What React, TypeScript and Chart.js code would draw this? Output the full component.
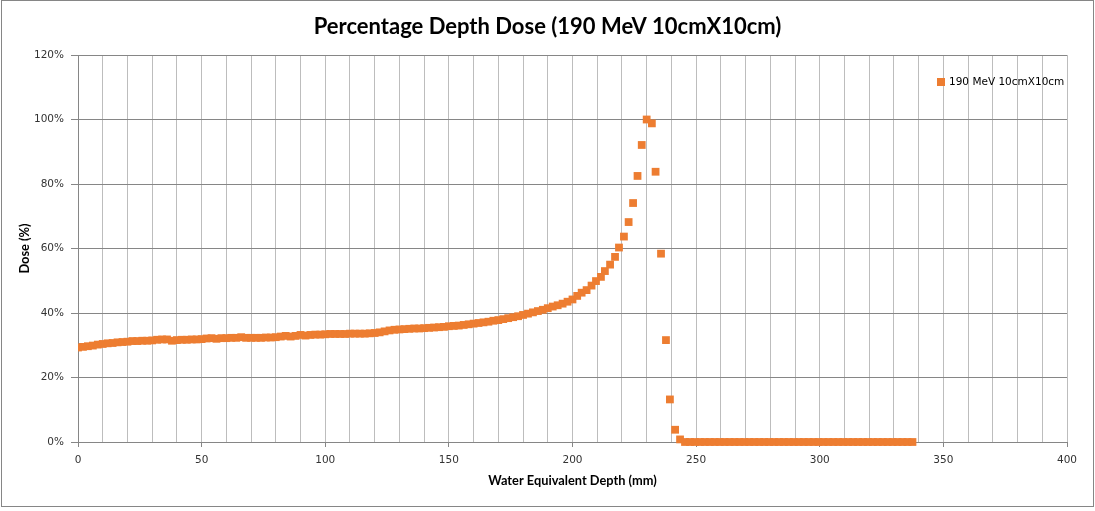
import React, { useEffect, useRef } from "react";
import { Chart, registerables } from "chart.js";

Chart.register(...registerables);

const chartTitle = "Percentage Depth Dose (190 MeV 10cmX10cm)";
const seriesName = "190 MeV 10cmX10cm";
const xAxisTitle = "Water Equivalent Depth (mm)";
const yAxisTitle = "Dose (%)";

const xTickLabels = [0, 50, 100, 150, 200, 250, 300, 350, 400];
const yTickLabels = [0, 20, 40, 60, 80, 100, 120];

// Water equivalent depth (mm)
const depthMm = [
  0, 2, 4, 6, 8, 10, 12, 14, 16, 18,
  20, 22, 24, 26, 28, 30, 32, 34, 36, 38,
  40, 42, 44, 46, 48, 50, 52, 54, 56, 58,
  60, 62, 64, 66, 68, 70, 72, 74, 76, 78,
  80, 82, 84, 86, 88, 90, 92, 94, 96, 98,
  100, 102, 104, 106, 108, 110, 112, 114, 116, 118,
  120, 122, 124, 126, 128, 130, 132, 134, 136, 138,
  140, 142, 144, 146, 148, 150, 152, 154, 156, 158,
  160, 162, 164, 166, 168, 170, 172, 174, 176, 178,
  180, 182, 184, 186, 188, 190, 192, 194, 196, 198,
  200, 201.9, 203.7, 205.7, 207.7, 209.5, 211.5, 213.1, 215.2, 217.2,
  218.8, 220.8, 222.7, 224.5, 226.3, 228.0, 230.0, 232.1, 233.6, 235.8,
  237.8, 239.4, 241.5, 243.5,
  245.5, 247.5, 249.5, 251.5, 253.5, 255.5, 257.5, 259.5, 261.5, 263.5,
  265.5, 267.5, 269.5, 271.5, 273.5, 275.5, 277.5, 279.5, 281.5, 283.5,
  285.5, 287.5, 289.5, 291.5, 293.5, 295.5, 297.5, 299.5, 301.5, 303.5,
  305.5, 307.5, 309.5, 311.5, 313.5, 315.5, 317.5, 319.5, 321.5, 323.5,
  325.5, 327.5, 329.5, 331.5, 333.5, 335.5, 337.5,
];

// Dose (%)
const dosePct = [
  29.3, 29.5, 29.7, 29.9, 30.2, 30.4, 30.6, 30.7, 30.9, 31.0,
  31.1, 31.3, 31.3, 31.4, 31.4, 31.5, 31.7, 31.8, 31.8, 31.4,
  31.6, 31.7, 31.7, 31.8, 31.8, 31.9, 32.1, 32.2, 32.0, 32.2,
  32.2, 32.3, 32.3, 32.5, 32.3, 32.3, 32.3, 32.3, 32.4, 32.4,
  32.5, 32.7, 32.9, 32.7, 32.9, 33.2, 33.0, 33.2, 33.3, 33.3,
  33.4, 33.5, 33.5, 33.5, 33.5, 33.6, 33.6, 33.6, 33.6, 33.7,
  33.8, 34.0, 34.3, 34.6, 34.8, 34.9, 35.0, 35.1, 35.2, 35.2,
  35.3, 35.4, 35.5, 35.6, 35.7, 35.9, 36.0, 36.1, 36.3, 36.5,
  36.7, 36.9, 37.1, 37.3, 37.6, 37.8, 38.1, 38.4, 38.7, 39.0,
  39.4, 39.8, 40.2, 40.6, 41.0, 41.5, 42.0, 42.4, 42.9, 43.5,
  44.2, 45.3, 46.3, 47.1, 48.5, 49.9, 51.2, 53.0, 55.0, 57.4,
  60.3, 63.7, 68.2, 74.1, 82.5, 92.1, 100.0, 98.8, 83.8, 58.4,
  31.6, 13.2, 3.8, 0.8,
  0, 0, 0, 0, 0, 0, 0, 0, 0, 0,
  0, 0, 0, 0, 0, 0, 0, 0, 0, 0,
  0, 0, 0, 0, 0, 0, 0, 0, 0, 0,
  0, 0, 0, 0, 0, 0, 0, 0, 0, 0,
  0, 0, 0, 0, 0, 0, 0,
];

const ORANGE = "#ED7D31";
const AXIS_GREY = "#868686";
const MINOR_GREY = "#bdbdbd";
const TICK_FONT = { family: "DejaVu Sans", size: 10.5 };
const AXIS_TITLE_FONT = { family: "Lato", size: 12.8, weight: "bold" as const };

const cornerLegend = {
  id: "cornerLegend",
  afterDraw(chart: any) {
    const { ctx, chartArea } = chart;
    const x = chartArea.right - 130;
    const y = chartArea.top + 27;
    ctx.save();
    ctx.fillStyle = ORANGE;
    ctx.fillRect(x, y - 4, 8, 8);
    ctx.fillStyle = "#000";
    ctx.font = '10.5px "DejaVu Sans"';
    ctx.textBaseline = "middle";
    ctx.textAlign = "left";
    ctx.fillText(seriesName, x + 12, y);
    ctx.restore();
  },
};

export default function App() {
  const canvasRef = useRef<HTMLCanvasElement | null>(null);

  useEffect(() => {
    if (!canvasRef.current) return;
    const points = depthMm.map((d, i) => ({ x: d, y: dosePct[i] }));
    const chart = new Chart(canvasRef.current, {
      type: "scatter",
      data: {
        datasets: [
          {
            label: seriesName,
            data: points,
            pointStyle: "rect",
            pointRadius: 5.5,
            pointHoverRadius: 5.5,
            backgroundColor: ORANGE,
            borderColor: ORANGE,
            borderWidth: 0,
            showLine: false,
            clip: { left: 0, top: 10, right: 10, bottom: 10 },
          } as any,
        ],
      },
      options: {
        responsive: false,
        animation: false,
        layout: { padding: 0 },
        plugins: {
          legend: { display: false },
          tooltip: { enabled: false },
          title: {
            display: true,
            text: chartTitle,
            color: "#000",
            font: { family: "Lato", size: 22, weight: "bold" },
            padding: { top: 13.8, bottom: 14.8 },
          },
        },
        scales: {
          x: {
            type: "linear",
            min: 0,
            max: 400,
            afterFit: (s: any) => {
              s.height = 69;
            },
            ticks: {
              stepSize: 10,
              maxTicksLimit: 100,
              autoSkip: false,
              maxRotation: 0,
              padding: 7,
              color: "#333",
              font: TICK_FONT,
              callback: (v: any) => (xTickLabels.includes(Number(v)) ? String(v) : ""),
            },
            grid: {
              color: MINOR_GREY,
              lineWidth: 1,
              tickLength: 5,
              tickColor: (ctx: any) =>
                ctx.tick && xTickLabels.includes(ctx.tick.value) ? AXIS_GREY : "rgba(0,0,0,0)",
            },
            border: { display: true, color: AXIS_GREY, width: 1 },
            title: {
              display: true,
              text: xAxisTitle,
              color: "#000",
              font: AXIS_TITLE_FONT,
              padding: { top: 0, bottom: 22.3 },
            },
          },
          y: {
            type: "linear",
            position: "left",
            min: 0,
            max: 120,
            afterFit: (s: any) => {
              s.width = 78;
            },
            ticks: {
              stepSize: 20,
              padding: 7,
              color: "#333",
              font: TICK_FONT,
              callback: (v: any) => (yTickLabels.includes(Number(v)) ? v + "%" : ""),
            },
            grid: {
              color: AXIS_GREY,
              lineWidth: 1,
              tickLength: 7,
              tickColor: AXIS_GREY,
            },
            border: { display: true, color: AXIS_GREY, width: 1 },
            title: {
              display: true,
              text: yAxisTitle,
              color: "#000",
              font: AXIS_TITLE_FONT,
              padding: { top: 17.3, bottom: 0 },
            },
          },
          yRightSpace: {
            type: "linear",
            position: "right",
            display: true,
            afterFit: (s: any) => {
              s.width = 28;
            },
            ticks: { display: false },
            grid: { display: false, drawOnChartArea: false, drawTicks: false },
            border: { display: false },
          },
        },
      },
      plugins: [cornerLegend],
    });
    return () => chart.destroy();
  }, []);

  return (
    <div
      style={{
        position: "fixed",
        left: 0,
        top: 0,
        width: 1095,
        height: 511,
        background: "#fff",
      }}
    >
      <canvas ref={canvasRef} width={1095} height={511} style={{ display: "block" }} />
      <div
        style={{
          position: "absolute",
          left: 1,
          top: 0,
          width: 1093,
          height: 507,
          boxSizing: "border-box",
          border: "1px solid #868686",
          pointerEvents: "none",
        }}
      />
    </div>
  );
}
